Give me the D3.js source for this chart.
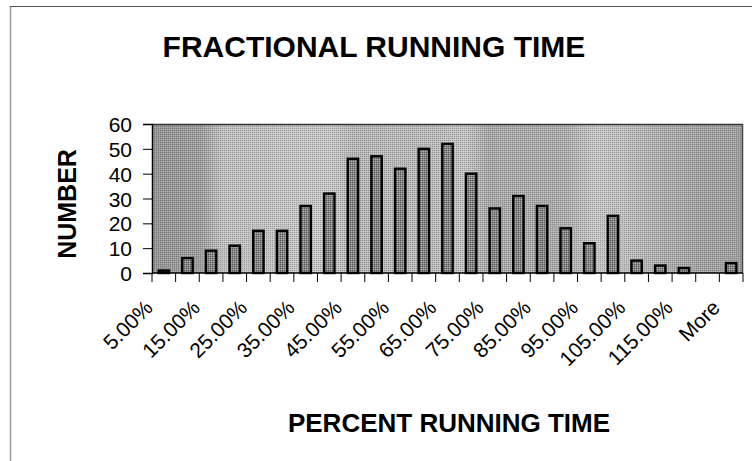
<!DOCTYPE html>
<html>
<head>
<meta charset="utf-8">
<script src="https://cdn.jsdelivr.net/npm/d3@7"></script>
<style>
  html, body { margin: 0; padding: 0; background: #fff; }
  svg { display: block; }
  text { font-family: "Liberation Sans", Arial, sans-serif; fill: #000; }
</style>
</head>
<body>
<svg id="chart" width="752" height="461"></svg>
<script>
const categories = ["5.00%","10.00%","15.00%","20.00%","25.00%","30.00%","35.00%","40.00%","45.00%","50.00%",
  "55.00%","60.00%","65.00%","70.00%","75.00%","80.00%","85.00%","90.00%","95.00%","100.00%",
  "105.00%","110.00%","115.00%","120.00%","More"];
const counts = [1,6,9,11,17,17,27,32,46,47,42,50,52,40,26,31,27,18,12,23,5,3,2,0,4];
const yTicks = [0,10,20,30,40,50,60];
const shownLabels = ["5.00%","15.00%","25.00%","35.00%","45.00%","55.00%","65.00%","75.00%","85.00%","95.00%","105.00%","115.00%","More"];
const titleText = "FRACTIONAL RUNNING TIME";
const xTitle = "PERCENT RUNNING TIME";
const yTitle = "NUMBER";

const svg = d3.select("#chart");
const plot = {left: 152, right: 743, top: 124, bottom: 273};

const x = d3.scaleBand().domain(categories).range([plot.left, plot.right]).padding(0);
const y = d3.scaleLinear().domain([0, 60]).range([plot.bottom, plot.top]);

const defs = svg.append("defs");
const grad = defs.append("linearGradient").attr("id", "bg").attr("x1", "0%").attr("x2", "100%").attr("y1", "0").attr("y2", "0");
[[0, "#969696"], [0.08, "#9e9e9e"], [0.12, "#c0c0c0"], [0.3, "#c8c8c8"], [0.34, "#b8b8b8"], [0.48, "#bcbcbc"],
 [0.53, "#c4c4c4"], [0.57, "#aaaaaa"], [0.7, "#aeaeae"], [0.75, "#c6c6c6"], [0.8, "#c0c0c0"], [0.86, "#b0b0b0"],
 [0.93, "#a4a4a4"], [1, "#a0a0a0"]].forEach(([o, c]) => grad.append("stop").attr("offset", o).attr("stop-color", c));

const pat = defs.append("pattern").attr("id", "dither").attr("width", 2).attr("height", 2).attr("patternUnits", "userSpaceOnUse");
pat.append("rect").attr("width", 1).attr("height", 1).attr("fill", "#000").attr("opacity", 0.2);
pat.append("rect").attr("x", 1).attr("y", 1).attr("width", 1).attr("height", 1).attr("fill", "#fff").attr("opacity", 0.2);

const barPat = defs.append("pattern").attr("id", "barfill").attr("width", 2).attr("height", 2).attr("patternUnits", "userSpaceOnUse");
barPat.append("rect").attr("width", 2).attr("height", 2).attr("fill", "#888");
barPat.append("rect").attr("width", 1).attr("height", 1).attr("fill", "#555");
barPat.append("rect").attr("x", 1).attr("y", 1).attr("width", 1).attr("height", 1).attr("fill", "#aaa");

// outer chart frame
svg.append("line").attr("x1", 10.5).attr("x2", 10.5).attr("y1", 6).attr("y2", 461).attr("stroke", "#999").attr("stroke-width", 1.5);
svg.append("line").attr("x1", 10).attr("x2", 752).attr("y1", 6.5).attr("y2", 6.5).attr("stroke", "#555").attr("stroke-width", 1);

// plot background
svg.append("rect").attr("x", plot.left).attr("y", plot.top).attr("width", plot.right - plot.left).attr("height", plot.bottom - plot.top).attr("fill", "url(#bg)");
svg.append("rect").attr("x", plot.left).attr("y", plot.top).attr("width", plot.right - plot.left).attr("height", plot.bottom - plot.top).attr("fill", "url(#dither)");
svg.append("line").attr("x1", plot.left).attr("x2", plot.right).attr("y1", plot.top + 0.5).attr("y2", plot.top + 0.5).attr("stroke", "#333").attr("stroke-width", 1.5);
svg.append("line").attr("x1", plot.right - 0.5).attr("x2", plot.right - 0.5).attr("y1", plot.top).attr("y2", plot.bottom).attr("stroke", "#444").attr("stroke-width", 1.5);

// bars
const bw = x.bandwidth() * 0.44;
svg.append("g").selectAll("rect").data(categories.map((c, i) => ({c, v: counts[i]})).filter(d => d.v > 0))
  .join("rect")
  .attr("x", d => x(d.c) + (x.bandwidth() - bw) / 2)
  .attr("y", d => y(d.v))
  .attr("width", bw)
  .attr("height", d => y(0) - y(d.v))
  .attr("fill", "url(#barfill)")
  .attr("stroke", "#000")
  .attr("stroke-width", 2.4);

// y axis
const yAxis = svg.append("g").attr("transform", `translate(${plot.left},0)`)
  .call(d3.axisLeft(y).tickValues(yTicks).tickSize(9).tickPadding(11).tickFormat(d3.format("d")));
yAxis.select(".domain").attr("stroke", "#000").attr("stroke-width", 1.5);
yAxis.selectAll(".tick line").attr("stroke", "#000").attr("stroke-width", 1);
yAxis.selectAll(".tick text").attr("font-size", 21).attr("font-family", "Liberation Sans, Arial, sans-serif").attr("fill", "#000").attr("dy", "0.36em");

// x axis line and ticks at category boundaries
svg.append("line").attr("x1", plot.left).attr("x2", plot.right).attr("y1", plot.bottom).attr("y2", plot.bottom).attr("stroke", "#000").attr("stroke-width", 1.5);
const bounds = categories.map(c => x(c)).concat([x(categories[categories.length - 1]) + x.bandwidth()]);
svg.append("g").selectAll("line").data(bounds).join("line")
  .attr("x1", d => d).attr("x2", d => d)
  .attr("y1", plot.bottom).attr("y2", plot.bottom + 9)
  .attr("stroke", "#000").attr("stroke-width", 1);

// x tick labels
svg.append("g").selectAll("text").data(shownLabels).join("text")
  .attr("transform", d => `translate(${x(d) + 2},309) rotate(-45)`)
  .attr("text-anchor", "end")
  .attr("font-size", 21)
  .text(d => d);

// titles
svg.append("text").attr("x", 374).attr("y", 57).attr("text-anchor", "middle")
  .attr("font-size", 30).attr("font-weight", "bold").text(titleText);
svg.append("text").attr("x", 449).attr("y", 432).attr("text-anchor", "middle")
  .attr("font-size", 26).attr("font-weight", "bold").text(xTitle);
svg.append("text").attr("transform", "translate(76,204) rotate(-90)").attr("text-anchor", "middle")
  .attr("font-size", 25).attr("font-weight", "bold").text(yTitle);
</script>
</body>
</html>
